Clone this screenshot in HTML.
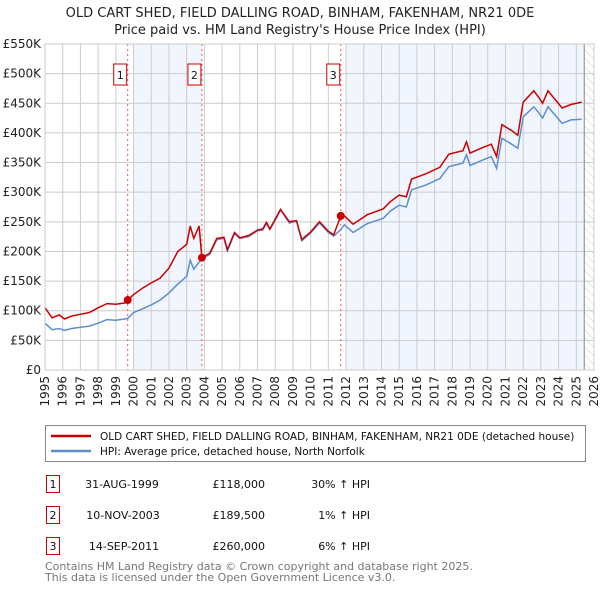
<!DOCTYPE html>
<html><head><meta charset="utf-8"><style>
body{margin:0;background:#fff;font-family:"DejaVu Sans","Liberation Sans",sans-serif;}
svg text{font-family:"DejaVu Sans","Liberation Sans",sans-serif;}
</style></head><body>
<svg id="c" width="600" height="590" xmlns="http://www.w3.org/2000/svg">
<text x="300" y="17" text-anchor="middle" font-size="13" fill="#222">OLD CART SHED, FIELD DALLING ROAD, BINHAM, FAKENHAM, NR21 0DE</text>
<text x="300" y="34" text-anchor="middle" font-size="13" fill="#222">Price paid vs. HM Land Registry's House Price Index (HPI)</text>
<g id="plot"></g>
<g>
<rect x="45.5" y="425.5" width="540" height="36" fill="#fff" stroke="#888"/>
<line x1="51" y1="436" x2="91" y2="436" stroke="#cc0000" stroke-width="2.5"/>
<text x="100" y="440" font-size="10.5" fill="#111">OLD CART SHED, FIELD DALLING ROAD, BINHAM, FAKENHAM, NR21 0DE (detached house)</text>
<line x1="51" y1="451" x2="91" y2="451" stroke="#5b8fd0" stroke-width="2.5"/>
<text x="100" y="455" font-size="10.5" fill="#111">HPI: Average price, detached house, North Norfolk</text>
</g>
<g font-size="11" fill="#111">
<rect x="46.5" y="475.5" width="13" height="17" fill="#fff" stroke="#cc0000"/><text x="53" y="488" text-anchor="middle">1</text>
<text x="122" y="488" text-anchor="middle">31-AUG-1999</text><text x="265" y="488" text-anchor="end">£118,000</text><text x="370" y="488" text-anchor="end">30% ↑ HPI</text>
<rect x="46.5" y="506.5" width="13" height="17" fill="#fff" stroke="#cc0000"/><text x="53" y="519" text-anchor="middle">2</text>
<text x="123" y="519" text-anchor="middle">10-NOV-2003</text><text x="265" y="519" text-anchor="end">£189,500</text><text x="370" y="519" text-anchor="end">1% ↑ HPI</text>
<rect x="46.5" y="537.5" width="13" height="17" fill="#fff" stroke="#cc0000"/><text x="53" y="550" text-anchor="middle">3</text>
<text x="124" y="550" text-anchor="middle">14-SEP-2011</text><text x="265" y="550" text-anchor="end">£260,000</text><text x="370" y="550" text-anchor="end">6% ↑ HPI</text>
</g>
<text x="45" y="570" font-size="11" fill="#777">Contains HM Land Registry data © Crown copyright and database right 2025.</text>
<text x="45" y="581" font-size="11" fill="#777">This data is licensed under the Open Government Licence v3.0.</text>
</svg>
<script>
const years=[1995.0,1995.4,1995.8,1996.1,1996.5,1997.0,1997.5,1998.0,1998.5,1999.0,1999.5,1999.67,2000.0,2000.5,2001.0,2001.5,2002.0,2002.5,2003.0,2003.2,2003.4,2003.7,2003.86,2004.3,2004.7,2005.1,2005.3,2005.7,2006.0,2006.5,2007.0,2007.3,2007.5,2007.7,2008.1,2008.3,2008.8,2009.2,2009.5,2010.0,2010.5,2011.0,2011.3,2011.7,2011.9,2012.4,2013.2,2014.1,2014.5,2015.0,2015.4,2015.7,2016.5,2017.3,2017.8,2018.6,2018.8,2019.0,2019.7,2020.2,2020.5,2020.8,2021.4,2021.7,2022.0,2022.6,2022.9,2023.1,2023.4,2024.2,2024.7,2025.3];
const hpiValues=[79,68,70,67,70,72,74,79,85,84,86,87,97,103,110,118,130,145,158,185,170,182,188,195,220,222,201,230,222,225,235,236,247,237,258,270,248,251,218,231,248,232,226,237,245,232,247,256,268,278,275,304,312,323,343,349,363,345,354,360,340,391,380,374,427,444,433,425,444,416,422,423];
const priceValues=[105,88,93,86,91,94,97,105,112,111,113,118,127,138,147,155,172,200,212,243,222,243,189.5,197,222,224,203,232,223,227,236,238,249,238,260,271,250,252,220,233,250,234,228,260,260,246,262,272,284,295,292,322,331,342,364,370,385,366,375,381,360,414,403,396,452,471,459,450,471,442,448,452];
const yTicks=[0,50,100,150,200,250,300,350,400,450,500,550];
const xTicks=[1995,1996,1997,1998,1999,2000,2001,2002,2003,2004,2005,2006,2007,2008,2009,2010,2011,2012,2013,2014,2015,2016,2017,2018,2019,2020,2021,2022,2023,2024,2025,2026];
const saleYears=[1999.67,2003.86,2011.7];
const salePrices=[118,189.5,260];
const saleLabels=["1","2","3"];
const x0=45,x1=594,yTop=44,yBot=370;
const X=v=>x0+(v-1995)/31*(x1-x0);
const Y=v=>yBot-v/550*(yBot-yTop);
const NS="http://www.w3.org/2000/svg";
const g=document.getElementById('plot');
function mk(t,a){const e=document.createElementNS(NS,t);for(const k in a)e.setAttribute(k,a[k]);g.appendChild(e);return e;}
let r;
r=mk('rect',{x:X(2000),y:yTop,width:X(2003.86)-X(2000),height:yBot-yTop,fill:'#eef3fc',opacity:0.8});


r=mk('rect',{x:X(2012),y:yTop,width:X(2025.45)-X(2012),height:yBot-yTop,fill:'#eef3fc',opacity:0.8});


const defs=mk('defs',{});
defs.innerHTML='<pattern id="hat" width="6" height="6" patternUnits="userSpaceOnUse" patternTransform="rotate(-45)"><line x1="0" y1="0" x2="0" y2="6" stroke="#ccc" stroke-width="1"/></pattern>';
r=mk('rect',{x:X(2025.45),y:yTop,width:x1-X(2025.45),height:yBot-yTop,fill:'url(#hat)'});


yTicks.forEach(t=>{
 const l=mk('line',{x1:x0,x2:x1,y1:Y(t),y2:Y(t),stroke:'#ccc','stroke-width':1});
 
 
 const tx=mk('text',{x:x0-4,y:Y(t)+4,'text-anchor':'end','font-size':12,fill:'#222'});
 tx.textContent=t===0?'£0':'£'+t+'K';
 
 
});
xTicks.forEach(t=>{
 const l=mk('line',{x1:X(t),x2:X(t),y1:yTop,y2:yBot,stroke:'#ccc','stroke-width':1});
 
 
 const tx=mk('text',{x:0,y:0,'text-anchor':'end','font-size':12,fill:'#222',transform:`translate(${X(t)+4},${yBot+6}) rotate(-90)`});
 tx.textContent=t;
 
 
});
r=mk('line',{x1:X(2025.45),x2:X(2025.45),y1:yTop,y2:yBot,stroke:'#888','stroke-width':1});


saleYears.forEach((s,i)=>{
 const l=mk('line',{x1:X(s),x2:X(s),y1:yTop,y2:yBot,stroke:'#e55','stroke-width':1,'stroke-dasharray':'2,3'});
 
 
});
const pts=v=>years.map((y,i)=>X(y).toFixed(1)+','+Y(v[i]).toFixed(1)).join(' ');
r=mk('polyline',{points:pts(hpiValues),fill:'none',stroke:'#5b8fd0','stroke-width':1.5});


r=mk('polyline',{points:pts(priceValues),fill:'none',stroke:'#cc0000','stroke-width':1.5});


saleYears.forEach((s,i)=>{
 const c=mk('circle',{cx:X(s),cy:Y(salePrices[i]),r:4,fill:'#cc0000'});
 
 
 const b=mk('rect',{x:X(s)-14,y:yTop+20,width:13,height:21,fill:'#fff',stroke:'#cc0000'});
 
 
 const t=mk('text',{x:X(s)-7.5,y:yTop+35,'text-anchor':'middle','font-size':11,fill:'#111'});
 t.textContent=saleLabels[i];
 
 
});
r=mk('rect',{x:x0,y:yTop,width:x1-x0,height:yBot-yTop,fill:'none',stroke:'#ccc'});


</script>
</body></html>
